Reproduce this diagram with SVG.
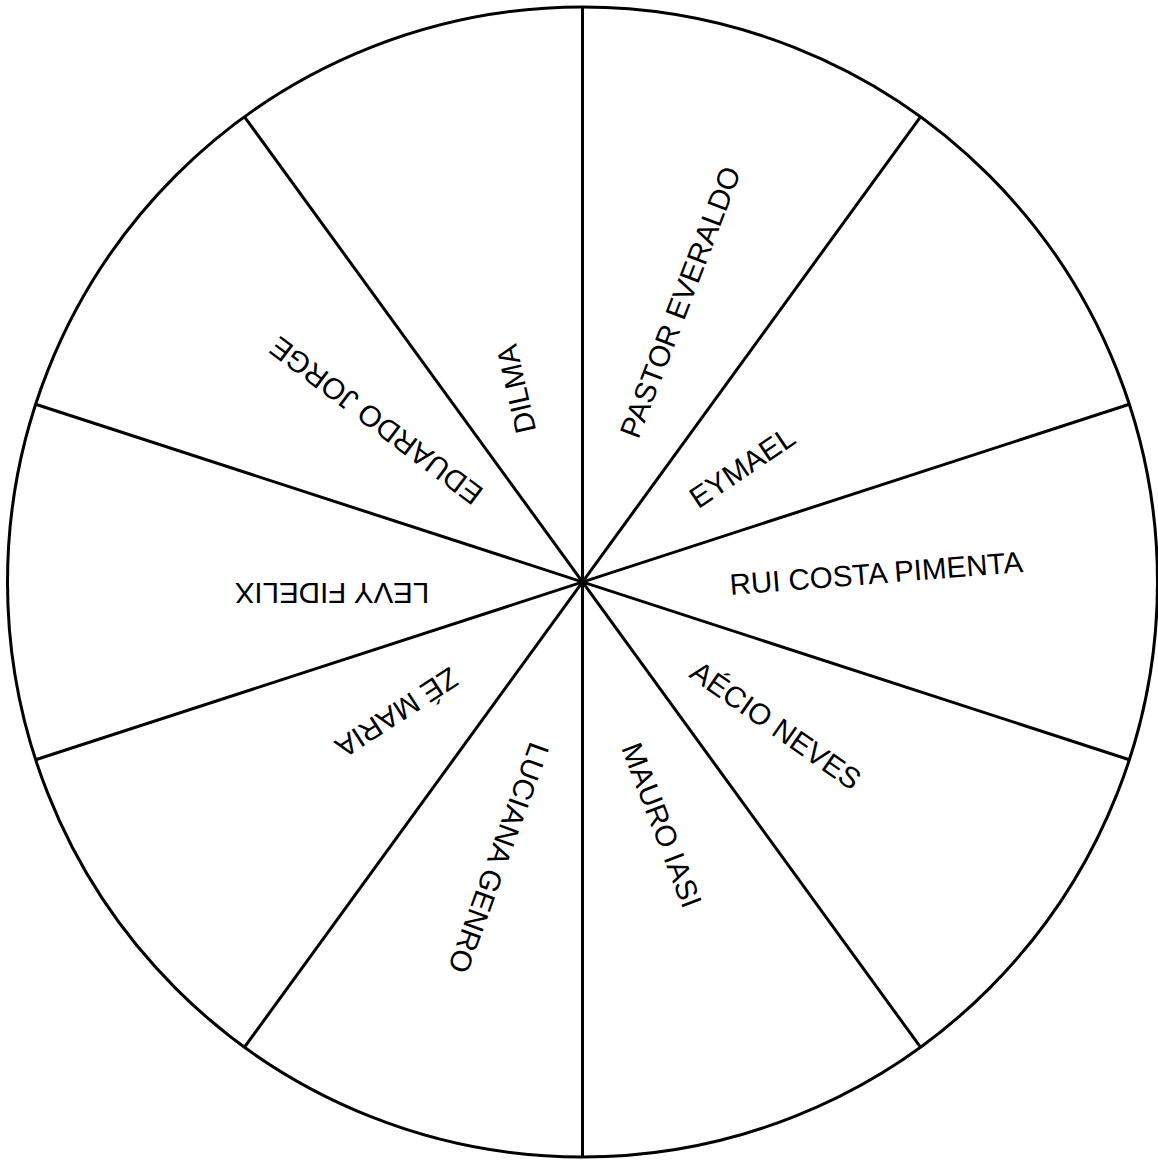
<svg xmlns="http://www.w3.org/2000/svg" width="1158" height="1160" viewBox="0 0 1158 1160">
<style>
.ln{stroke:#000;stroke-width:3;fill:none}
.lb{font-family:"Liberation Sans",Arial,sans-serif;font-size:29.5px;fill:#000;text-anchor:middle}
</style>
<rect width="1158" height="1160" fill="#fff"/>
<g id="wheel">
<circle class="ln" cx="582.5" cy="582" r="575"/>
</g>
<g id="connectors">
<line class="ln" x1="582.5" y1="7" x2="582.5" y2="1157"/>
<line class="ln" x1="920.5" y1="116.8" x2="244.5" y2="1047.2"/>
<line class="ln" x1="1129.4" y1="404.3" x2="35.6" y2="759.7"/>
<line class="ln" x1="1129.4" y1="759.7" x2="35.6" y2="404.3"/>
<line class="ln" x1="920.5" y1="1047.2" x2="244.5" y2="116.8"/>
</g>
<g id="n-pastor"><text class="lb" transform="translate(689.8,305.8) rotate(-69)">PASTOR EVERALDO</text></g>
<g id="n-eymael"><text class="lb" transform="translate(747.9,475.8) rotate(-34)">EYMAEL</text></g>
<g id="n-rui"><text class="lb" transform="translate(877,583.5) rotate(-4.5)">RUI COSTA PIMENTA</text></g>
<g id="n-aecio"><text class="lb" transform="translate(770,733.7) rotate(35)">AÉCIO NEVES</text></g>
<g id="n-mauro"><text class="lb" transform="translate(652.2,828.8) rotate(69)">MAURO IASI</text></g>
<g id="n-luciana"><text class="lb" transform="translate(489.1,854.4) rotate(110)">LUCIANA GENRO</text></g>
<g id="n-ze"><text class="lb" transform="translate(391.3,704.1) rotate(147)">ZÉ MARIA</text></g>
<g id="n-levy"><text class="lb" transform="translate(332,582.5) rotate(180)">LEVY FIDELIX</text></g>
<g id="n-eduardo"><text class="lb" transform="translate(382.3,412.6) rotate(217)">EDUARDO JORGE</text></g>
<g id="n-dilma"><text class="lb" transform="translate(526.2,386.7) rotate(257)">DILMA</text></g>
</svg>
